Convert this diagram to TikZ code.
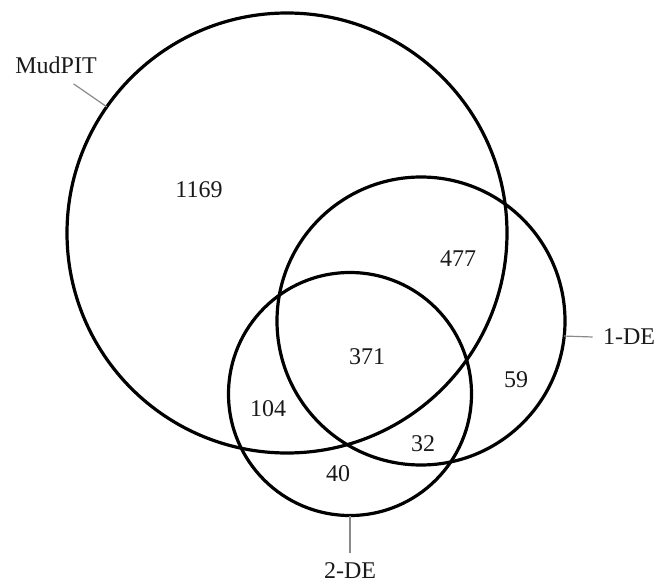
\documentclass[tikz,border=0pt]{standalone}
\usepackage{fontspec}
\setmainfont{Liberation Serif}
\usepackage{tikz}
\usetikzlibrary{positioning}
\definecolor{cRing}{HTML}{000000}
\definecolor{cTick}{HTML}{8A8A8A}
\definecolor{cText}{HTML}{1A1A1A}
\tikzset{
  ring/.style  ={circle,draw=cRing,line width=1.6pt,inner sep=0pt,outer sep=0pt},
  count/.style ={text=cText,font=\fontsize{12}{14}\selectfont},
  setname/.style={text=cText,font=\fontsize{12}{14}\selectfont,inner sep=5pt},
  tick/.style  ={cTick,line width=0.6pt},
}
\begin{document}
\begin{tikzpicture}[x=0.5pt,y=-0.5pt]
  \useasboundingbox (0,0) rectangle (659,583);
  \node[ring,minimum size=220pt] (mudpit) at (287,233) {};
  \node[ring,minimum size=144pt] (onede) at (421,321) {};
  \node[ring,minimum size=121.5pt] (twode) at (350,394) {};
  \node[count] (nMud) at (199,190) {1169};
  \node[count] (nMudOne) at (458,259) {477};
  \node[count] (nAll) at (367,357) {371};
  \node[count] (nOne) at (516,380) {59};
  \node[count] (nMudTwo) at (268,409) {104};
  \node[count] (nOneTwo) at (423,444) {32};
  \node[count] (nTwo) at (338,474) {40};
  \node[setname] (lblMud) at (56,65) {MudPIT};
  \node[setname] (lblOne) at (629,337) {1-DE};
  \node[setname] (lblTwo) at (350,571) {2-DE};
  \draw[tick] (mudpit.145.5) -- (lblMud.-47);
  \draw[tick] (onede.-6.4) -- (lblOne.west);
  \draw[tick] (twode.south) -- (lblTwo.north);
\end{tikzpicture}
\end{document}
